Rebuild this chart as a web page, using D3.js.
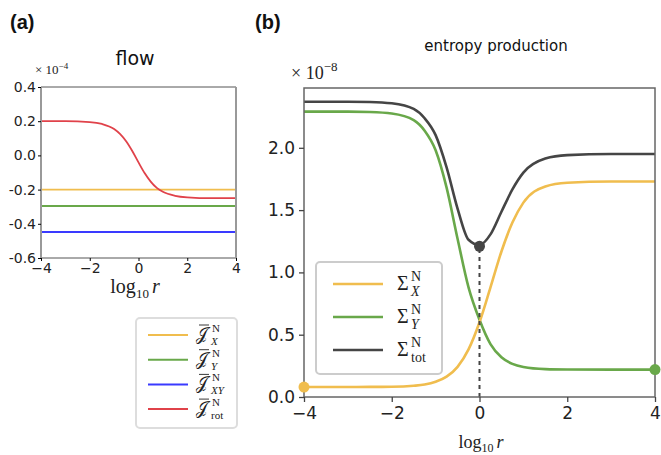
<!DOCTYPE html>
<html>
<head>
<meta charset="utf-8">
<script src="https://cdn.jsdelivr.net/npm/d3@7"></script>
<style>
  body { margin: 0; background: #fff; }
  svg { display: block; }
  .tick text { font-family: "DejaVu Sans", sans-serif; fill: #222; }
  .math { font-family: "Liberation Serif", "DejaVu Serif", serif; fill: #222; }
</style>
</head>
<body>
<svg id="chart" width="661" height="455"></svg>
<script>
// ---- data ----
var xTicks = [-4, -2, 0, 2, 4];

// panel (a): flow, units of 1e-4
var flowYTicks = [0.4, 0.2, 0.0, -0.2, -0.4, -0.6];
var flowEnds = [-4, 4];
var jX = [-0.2, -0.2];
var jY = [-0.296, -0.296];
var jXY = [-0.448, -0.448];
var rotLogR = [-4, -3, -2, -1.5, -1, -0.75, -0.5, -0.25, 0, 0.25, 0.5, 0.75, 1, 1.5, 2, 3, 4];
var jRot = [0.2, 0.2, 0.195, 0.184, 0.154, 0.124, 0.081, 0.024, -0.041, -0.103, -0.153, -0.19, -0.213, -0.236, -0.245, -0.25, -0.25];

// panel (b): entropy production, units of 1e-8
var entYTicks = [0.0, 0.5, 1.0, 1.5, 2.0];
var logR = [-4, -3, -2.5, -2, -1.5, -1.25, -1, -0.75, -0.5, -0.25, 0, 0.25, 0.5, 0.75, 1, 1.5, 2, 3, 4];
var sigX = [0.08, 0.08, 0.081, 0.082, 0.09, 0.10, 0.122, 0.163, 0.242, 0.382, 0.60, 0.88, 1.168, 1.40, 1.56, 1.69, 1.72, 1.73, 1.73];
var sigY = [2.29, 2.29, 2.287, 2.275, 2.222, 2.137, 1.98, 1.68, 1.27, 0.88, 0.62, 0.425, 0.319, 0.266, 0.241, 0.224, 0.221, 0.22, 0.22];
var sigTot = [2.37, 2.37, 2.368, 2.357, 2.312, 2.237, 2.102, 1.843, 1.512, 1.262, 1.22, 1.305, 1.487, 1.666, 1.801, 1.914, 1.941, 1.95, 1.95];
var minPoint = {x: 0, y: 1.21};

var cYellow = "#f0bd4e", cGreen = "#69a84a", cBlack = "#454545", cBlue = "#3a3aff", cRed = "#e0424a";

var svg = d3.select("#chart");

function series(xs, ys) { return xs.map(function(v, i) { return [v, ys[i]]; }); }
function minus(d) { return d < 0 ? "\u2212" + Math.abs(d) : d; }

// ---------- panel (a) ----------
var xa = d3.scaleLinear().domain([-4, 4]).range([41, 236]);
var ya = d3.scaleLinear().domain([-0.6, 0.4]).range([258, 87]);
var ga = svg.append("g");

var lineA = d3.line().x(function(d) { return xa(d[0]); }).y(function(d) { return ya(d[1]); })
  .curve(d3.curveMonotoneX);

[[jX, cYellow], [jY, cGreen], [jXY, cBlue]].forEach(function(s) {
  ga.append("path").datum(series(flowEnds, s[0]))
    .attr("d", lineA).attr("fill", "none").attr("stroke", s[1]).attr("stroke-width", 1.8);
});
ga.append("path").datum(series(rotLogR, jRot))
  .attr("d", lineA).attr("fill", "none").attr("stroke", cRed).attr("stroke-width", 1.8);

// frame
ga.append("line").attr("x1", 41).attr("x2", 236).attr("y1", 87).attr("y2", 87).attr("stroke", "#555").attr("stroke-width", 1);
ga.append("line").attr("x1", 41).attr("x2", 236).attr("y1", 258).attr("y2", 258).attr("stroke", "#555").attr("stroke-width", 1);
ga.append("line").attr("x1", 41).attr("x2", 41).attr("y1", 87).attr("y2", 258).attr("stroke", "#999").attr("stroke-width", 2);
ga.append("line").attr("x1", 236).attr("x2", 236).attr("y1", 87).attr("y2", 258).attr("stroke", "#999").attr("stroke-width", 2);

var axAx = ga.append("g").attr("transform", "translate(0,258)")
  .call(d3.axisBottom(xa).tickValues(xTicks).tickSize(3).tickPadding(2).tickFormat(minus));
axAx.select(".domain").remove();
axAx.selectAll("text").style("font-size", "14px");
var axAy = ga.append("g").attr("transform", "translate(41,0)")
  .call(d3.axisLeft(ya).tickValues(flowYTicks).tickSize(3).tickPadding(2)
    .tickFormat(function(d) { return d3.format(".1f")(d).replace("\u2212", "-"); }));
axAy.select(".domain").remove();
axAy.selectAll("text").style("font-size", "14px");

svg.append("text").attr("x", 10).attr("y", 29).attr("font-family", "Liberation Sans, Arial, sans-serif")
  .attr("font-weight", "bold").attr("font-size", 20).attr("fill", "#111").text("(a)");
svg.append("text").attr("x", 135).attr("y", 65).attr("text-anchor", "middle")
  .attr("font-family", "DejaVu Sans, sans-serif").attr("font-size", 19).attr("fill", "#111").text("flow");
var sa = svg.append("text").attr("class", "math").attr("x", 35).attr("y", 74).attr("font-size", 13);
sa.append("tspan").text("\u00d7 10");
sa.append("tspan").attr("dy", -5).attr("font-size", 9).text("\u22124");
var la = svg.append("text").attr("class", "math").attr("x", 135).attr("y", 293).attr("text-anchor", "middle").attr("font-size", 20);
la.append("tspan").text("log");
la.append("tspan").attr("dy", 5).attr("font-size", 13).text("10");
la.append("tspan").attr("dy", -5).attr("dx", 3).attr("font-style", "italic").text("r");

// legend (a)
svg.append("rect").attr("x", 136).attr("y", 318).attr("width", 101).attr("height", 110).attr("rx", 4)
  .attr("fill", "#fff").attr("stroke", "#ddd").attr("stroke-width", 2);
var legA = [["X", cYellow], ["Y", cGreen], ["XY", cBlue], ["rot", cRed]];
legA.forEach(function(e, i) {
  var yy = 335 + i * 24.7;
  svg.append("line").attr("x1", 148).attr("x2", 188).attr("y1", yy).attr("y2", yy)
    .attr("stroke", e[1]).attr("stroke-width", 2);
  svg.append("text").attr("class", "math").attr("x", 196).attr("y", yy + 5).attr("font-size", 17)
    .text("\ud835\udca5");
  svg.append("text").attr("class", "math").attr("x", 212).attr("y", yy - 3).attr("font-size", 11).text("N");
  svg.append("text").attr("class", "math").attr("x", 211).attr("y", yy + 10).attr("font-size", 11)
    .attr("font-style", e[0] === "rot" ? "normal" : "italic").text(e[0]);
  svg.append("line").attr("x1", 199).attr("x2", 209).attr("y1", yy - 10).attr("y2", yy - 10)
    .attr("stroke", "#222").attr("stroke-width", 0.9);
});

// ---------- panel (b) ----------
var xb = d3.scaleLinear().domain([-4, 4]).range([304, 655]);
var yb = d3.scaleLinear().domain([0, 2.48]).range([397, 88]);
var gb = svg.append("g");

var lineB = d3.line().x(function(d) { return xb(d[0]); }).y(function(d) { return yb(d[1]); })
  .curve(d3.curveMonotoneX);

gb.append("path").datum(series(logR, sigTot)).attr("d", lineB)
  .attr("fill", "none").attr("stroke", cBlack).attr("stroke-width", 2.6);
gb.append("path").datum(series(logR, sigY)).attr("d", lineB)
  .attr("fill", "none").attr("stroke", cGreen).attr("stroke-width", 2.6);
gb.append("path").datum(series(logR, sigX)).attr("d", lineB)
  .attr("fill", "none").attr("stroke", cYellow).attr("stroke-width", 2.6);

gb.append("line").attr("x1", xb(minPoint.x)).attr("x2", xb(minPoint.x))
  .attr("y1", yb(0)).attr("y2", yb(minPoint.y))
  .attr("stroke", cBlack).attr("stroke-width", 2).attr("stroke-dasharray", "4,4");

// frame
gb.append("rect").attr("x", 304).attr("y", 88).attr("width", 351).attr("height", 309)
  .attr("fill", "none").attr("stroke", "#666").attr("stroke-width", 1.5);

// end-point markers
gb.append("circle").attr("cx", xb(logR[0])).attr("cy", yb(sigX[0])).attr("r", 5.5).attr("fill", cYellow);
gb.append("circle").attr("cx", xb(logR[logR.length - 1])).attr("cy", yb(sigY[sigY.length - 1])).attr("r", 5.5).attr("fill", cGreen);
gb.append("circle").attr("cx", xb(minPoint.x)).attr("cy", yb(minPoint.y)).attr("r", 5.5).attr("fill", cBlack);

var bxAx = gb.append("g").attr("transform", "translate(0,397)")
  .call(d3.axisBottom(xb).tickValues(xTicks).tickSize(5).tickPadding(5).tickFormat(minus));
bxAx.select(".domain").remove();
bxAx.selectAll("line").attr("stroke", "#444").attr("stroke-width", 1.3);
bxAx.selectAll("text").style("font-size", "17px");
var bxAy = gb.append("g").attr("transform", "translate(304,0)")
  .call(d3.axisLeft(yb).tickValues(entYTicks).tickSize(5).tickPadding(4)
    .tickFormat(d3.format(".1f")));
bxAy.select(".domain").remove();
bxAy.selectAll("line").attr("stroke", "#444").attr("stroke-width", 1.3);
bxAy.selectAll("text").style("font-size", "17px");

svg.append("text").attr("x", 255).attr("y", 29).attr("font-family", "Liberation Sans, Arial, sans-serif")
  .attr("font-weight", "bold").attr("font-size", 20).attr("fill", "#111").text("(b)");
svg.append("text").attr("x", 496).attr("y", 51).attr("text-anchor", "middle")
  .attr("font-family", "DejaVu Sans, sans-serif").attr("font-size", 15).attr("fill", "#111").text("entropy production");
var sb = svg.append("text").attr("class", "math").attr("x", 291).attr("y", 79).attr("font-size", 18);
sb.append("tspan").text("\u00d7 10");
sb.append("tspan").attr("dy", -8).attr("font-size", 13).text("\u22128");
var lb = svg.append("text").attr("class", "math").attr("x", 481).attr("y", 448).attr("text-anchor", "middle").attr("font-size", 18);
lb.append("tspan").text("log");
lb.append("tspan").attr("dy", 4).attr("font-size", 12).text("10");
lb.append("tspan").attr("dy", -4).attr("dx", 3).attr("font-style", "italic").text("r");

// legend (b)
svg.append("rect").attr("x", 316).attr("y", 262).attr("width", 126).attr("height", 112).attr("rx", 4)
  .attr("fill", "#fff").attr("fill-opacity", 0.85).attr("stroke", "#ccc").attr("stroke-width", 2);
var legB = [["X", cYellow, true], ["Y", cGreen, true], ["tot", cBlack, false]];
legB.forEach(function(e, i) {
  var yy = 284 + i * 33;
  svg.append("line").attr("x1", 333).attr("x2", 383).attr("y1", yy).attr("y2", yy)
    .attr("stroke", e[1]).attr("stroke-width", 2.6);
  svg.append("text").attr("class", "math").attr("x", 397).attr("y", yy + 6).attr("font-size", 20).text("\u03a3");
  svg.append("text").attr("class", "math").attr("x", 411).attr("y", yy - 3).attr("font-size", 14).text("N");
  svg.append("text").attr("class", "math").attr("x", 411).attr("y", yy + 12).attr("font-size", 14)
    .attr("font-style", e[2] ? "italic" : "normal").text(e[0]);
});
</script>
</body>
</html>
